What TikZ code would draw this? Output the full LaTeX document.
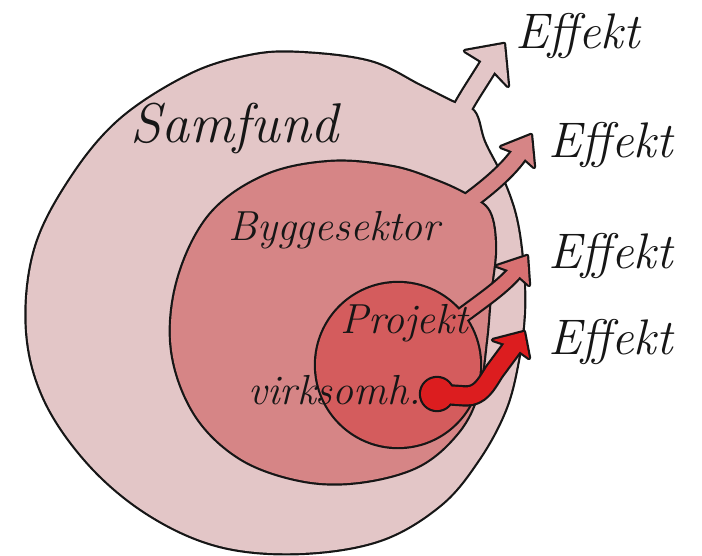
\documentclass[tikz,border=0pt]{standalone}
\usepackage{fontspec}
\setmainfont{Latin Modern Roman}
\definecolor{samfundc}{RGB}{227,198,199}
\definecolor{byggc}{RGB}{214,133,134}
\definecolor{projc}{RGB}{212,92,93}
\definecolor{effc}{RGB}{216,112,113}
\definecolor{virkc}{RGB}{220,29,31}
\definecolor{inkc}{RGB}{22,22,22}
\tikzset{
  rim/.style={draw=inkc, fill=inkc, line width=4.4pt, line join=round},
  lab/.style={inner sep=0pt, text=inkc, anchor=base west},
  bigfont/.style={font=\fontsize{56}{56}\selectfont\itshape},
  midfont/.style={font=\fontsize{42}{42}\selectfont\itshape},
  efffont/.style={font=\fontsize{50}{50}\selectfont\itshape},
}
\begin{document}
\begin{tikzpicture}[x=1pt,y=-1pt]
\useasboundingbox (0,0) rectangle (702,555);

% ---- blob outlines ----
\def\outerblob{plot[smooth cycle, tension=0.6] coordinates {
  (300,53) (370,62) (420,86) (452,102) (474,112) (484,142) (501,176) (515,215)
  (522,260) (524,310) (518,360) (505,410) (478,460) (440,505) (380,540)
  (300,553) (220,546) (150,515) (90,465) (45,400) (27,330) (35,250)
  (70,180) (120,120) (190,75) (250,56)}}
\def\middleblob{plot[smooth cycle, tension=0.6] coordinates {
  (330,162) (392,167) (436,181) (468,196) (489,212) (495,248) (490,295)
  (486,340) (478,392) (458,432) (418,466) (358,482) (300,480) (240,458)
  (195,414) (172,350) (178,280) (210,215) (265,176)}}

% arrow geometry: shaft start/end, head corners, tip and notch
\coordinate (a1s) at (452,130); \coordinate (a1e) at (489.5,64);
\coordinate (h1l) at (465,51); \coordinate (h1t) at (504,44); \coordinate (h1r) at (508,86);
\coordinate (h1n) at (488.5,65.5);
\coordinate (a2s) at (450,215); \coordinate (a2e) at (520,153);
\coordinate (h2l) at (501,147); \coordinate (h2t) at (531,135); \coordinate (h2r) at (534,167);
\coordinate (h2n) at (519.5,154);
\coordinate (a3s) at (450,325); \coordinate (a3e) at (516,271);
\coordinate (h3l) at (497,266); \coordinate (h3t) at (527,256); \coordinate (h3r) at (529,285);
\coordinate (h3n) at (515,272.5);
\coordinate (dot) at (437,394); \coordinate (a4e) at (514,345);
\coordinate (h4l) at (493,340); \coordinate (h4t) at (524,332); \coordinate (h4r) at (529,358);
\coordinate (h4n) at (513,346.5);

% ---- society layer ----
\draw[rim] \outerblob;
\draw[inkc, line width=21pt] (a1s) .. controls (462,105) and (475,88) .. (a1e);
\draw[rim] (h1l) -- (h1t) -- (h1r) -- (h1n) -- cycle;
\fill[samfundc] \outerblob;
\draw[samfundc, line width=16.6pt] (a1s) .. controls (462,105) and (475,88) .. (a1e);
\fill[samfundc] (h1l) -- (h1t) -- (h1r) -- (h1n) -- cycle;

% ---- building sector layer ----
\draw[rim] \middleblob;
\draw[inkc, line width=19.4pt] (a2s) .. controls (478,195) and (505,175) .. (a2e);
\draw[rim] (h2l) -- (h2t) -- (h2r) -- (h2n) -- cycle;
\fill[byggc] \middleblob;
\draw[byggc, line width=15pt] (a2s) .. controls (478,195) and (505,175) .. (a2e);
\fill[byggc] (h2l) -- (h2t) -- (h2r) -- (h2n) -- cycle;

% ---- project layer ----
\draw[rim] (398,365) circle[radius=82];
\draw[inkc, line width=17.4pt] (a3s) .. controls (475,305) and (500,290) .. (a3e);
\draw[rim] (h3l) -- (h3t) -- (h3r) -- (h3n) -- cycle;
\draw[effc, line width=13pt] (a3s) .. controls (475,305) and (500,290) .. (a3e);
\fill[effc] (h3l) -- (h3t) -- (h3r) -- (h3n) -- cycle;
\fill[projc] (398,365) circle[radius=82];

% ---- company dot and arrow ----
\draw[rim] (dot) circle[radius=16];
\draw[inkc, line width=21.4pt, line join=round]
  (dot) -- (466,396) .. controls (480,396) and (486,385) .. (494,372) -- (a4e);
\draw[rim] (h4l) -- (h4t) -- (h4r) -- (h4n) -- cycle;
\fill[virkc] (dot) circle[radius=16];
\draw[virkc, line width=17pt, line join=round]
  (dot) -- (466,396) .. controls (480,396) and (486,385) .. (494,372) -- (a4e);
\fill[virkc] (h4l) -- (h4t) -- (h4r) -- (h4n) -- cycle;

% ---- labels ----
\node[lab, bigfont] (samfund) at (130,142) {Samfund};
\node[lab, midfont] (bygge) at (228,240) {Byggesektor};
\node[lab, midfont] (projekt) at (340,333) {Projekt};
\node[lab, midfont] (virk) at (248,404) {virksomh.};
\node[lab, efffont] (eff1) at (515,48) {Effekt};
\node[lab, efffont] (eff2) at (548,157) {Effekt};
\node[lab, efffont] (eff3) at (548,268) {Effekt};
\node[lab, efffont] (eff4) at (548,354) {Effekt};
\end{tikzpicture}
\end{document}
